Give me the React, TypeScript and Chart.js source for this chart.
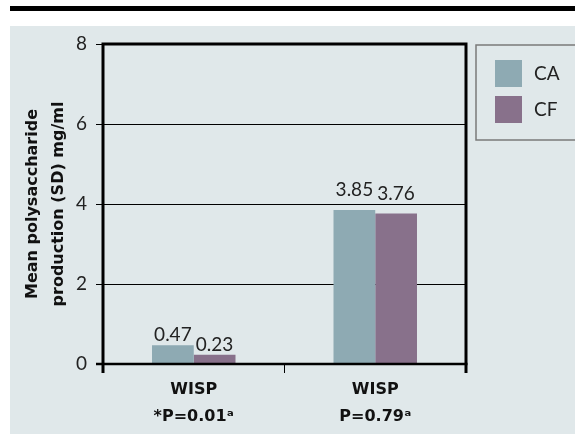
import React, { useEffect, useRef } from "react";
import { Chart, registerables } from "chart.js";
Chart.register(...registerables);

const categories = [["WISP", "*P=0.01ᵃ"], ["WISP", "P=0.79ᵃ"]];
const seriesNames = ["CA", "CF"];
const caValues = [0.47, 3.85];
const cfValues = [0.23, 3.76];
const seriesColors = ["#8eaab3", "#88718b"];
const yTitle = ["Mean polysaccharide", "production (SD) mg/ml"];
const yMin = 0;
const yMax = 8;
const yStep = 2;
const labelGaps = [4, 14];

const FONT = "Lato, 'DejaVu Sans', sans-serif";
const BOLD = "'DejaVu Sans', sans-serif";
const BG = "#e0e8ea";

const decorPlugin = {
  id: "decor",
  beforeDraw(chart: any) {
    const { ctx, width, height } = chart;
    ctx.save();
    ctx.fillStyle = "#ffffff";
    ctx.fillRect(0, 0, width, height);
    ctx.fillStyle = BG;
    ctx.fillRect(10, 26, width - 10, height - 26);
    ctx.fillStyle = "#000000";
    ctx.fillRect(10, 6, width - 10, 5);
    ctx.restore();
  },
  afterDatasetsDraw(chart: any) {
    const { ctx } = chart;
    ctx.save();
    ctx.font = `19px ${FONT}`;
    ctx.fillStyle = "#222222";
    ctx.textAlign = "center";
    ctx.textBaseline = "alphabetic";
    chart.data.datasets.forEach((ds: any, di: number) => {
      const meta = chart.getDatasetMeta(di);
      meta.data.forEach((bar: any, i: number) => {
        ctx.fillText(ds.data[i].toFixed(2), bar.x, bar.y - labelGaps[i]);
      });
    });
    ctx.restore();
  },
  afterDraw(chart: any) {
    const { ctx, chartArea } = chart;
    const { left, right, top, bottom } = chartArea;
    ctx.save();
    ctx.strokeStyle = "#000000";
    ctx.lineWidth = 3;
    ctx.beginPath();
    ctx.moveTo(left, top - 1.5);
    ctx.lineTo(left, bottom + 9);
    ctx.moveTo(right, top - 1.5);
    ctx.lineTo(right, bottom + 9);
    ctx.moveTo(left - 1.5, top);
    ctx.lineTo(right + 1.5, top);
    ctx.stroke();
    ctx.lineWidth = 2.5;
    ctx.beginPath();
    ctx.moveTo(left - 7, bottom);
    ctx.lineTo(right + 1.5, bottom);
    ctx.stroke();

    // legend
    const lx = right + 10;
    const ly = top + 1;
    ctx.fillStyle = BG;
    ctx.fillRect(lx, ly, chart.width - lx + 2, 95);
    ctx.strokeStyle = "#7a7a7a";
    ctx.lineWidth = 1.5;
    ctx.strokeRect(lx, ly, chart.width - lx + 5, 95);
    ctx.font = `19px ${FONT}`;
    ctx.textBaseline = "middle";
    ctx.textAlign = "left";
    chart.data.datasets.forEach((ds: any, di: number) => {
      const sy = ly + 15 + di * 36;
      ctx.fillStyle = ds.backgroundColor;
      ctx.fillRect(lx + 19, sy, 27, 27);
      ctx.fillStyle = "#222222";
      ctx.fillText(ds.label, lx + 58, sy + 14);
    });
    ctx.restore();
  },
};

export default function App() {
  const ref = useRef<HTMLCanvasElement | null>(null);
  useEffect(() => {
    if (!ref.current) return;
    const chart = new Chart(ref.current, {
      type: "bar",
      data: {
        labels: categories as any,
        datasets: [
          { label: seriesNames[0], data: caValues, backgroundColor: seriesColors[0] },
          { label: seriesNames[1], data: cfValues, backgroundColor: seriesColors[1] },
        ],
      },
      options: {
        animation: false,
        responsive: true,
        maintainAspectRatio: false,
        layout: { padding: { left: 10, top: 44, right: 109, bottom: 0 } },
        plugins: { legend: { display: false }, tooltip: { enabled: false } },
        datasets: { bar: { categoryPercentage: 0.46, barPercentage: 1.0 } } as any,
        scales: {
          x: {
            offset: true,
            grid: { display: true, offset: true, drawOnChartArea: false, tickLength: 9, color: "#000000", lineWidth: 1 },
            border: { display: false },
            ticks: { color: "#111111", font: { family: BOLD, size: 16, weight: "bold", lineHeight: 1.7 }, padding: 3 },
            afterFit: (s: any) => { s.height = 70; },
          },
          y: {
            min: yMin,
            max: yMax,
            ticks: { stepSize: yStep, color: "#222222", font: { family: FONT, size: 19 }, padding: 9 },
            grid: { color: "#000000", lineWidth: 1, tickLength: 7 },
            border: { display: false },
            title: {
              display: true,
              text: yTitle,
              color: "#111111",
              font: { family: BOLD, size: 16, weight: "bold", lineHeight: 1.6 },
              padding: { top: 10, bottom: 0 },
            },
            afterFit: (s: any) => { s.width = 93; },
          },
        },
      },
      plugins: [decorPlugin],
    });
    return () => chart.destroy();
  }, []);
  return (
    <div style={{ position: "absolute", left: 0, top: 0, width: 575, height: 434 }}>
      <canvas ref={ref} />
    </div>
  );
}
